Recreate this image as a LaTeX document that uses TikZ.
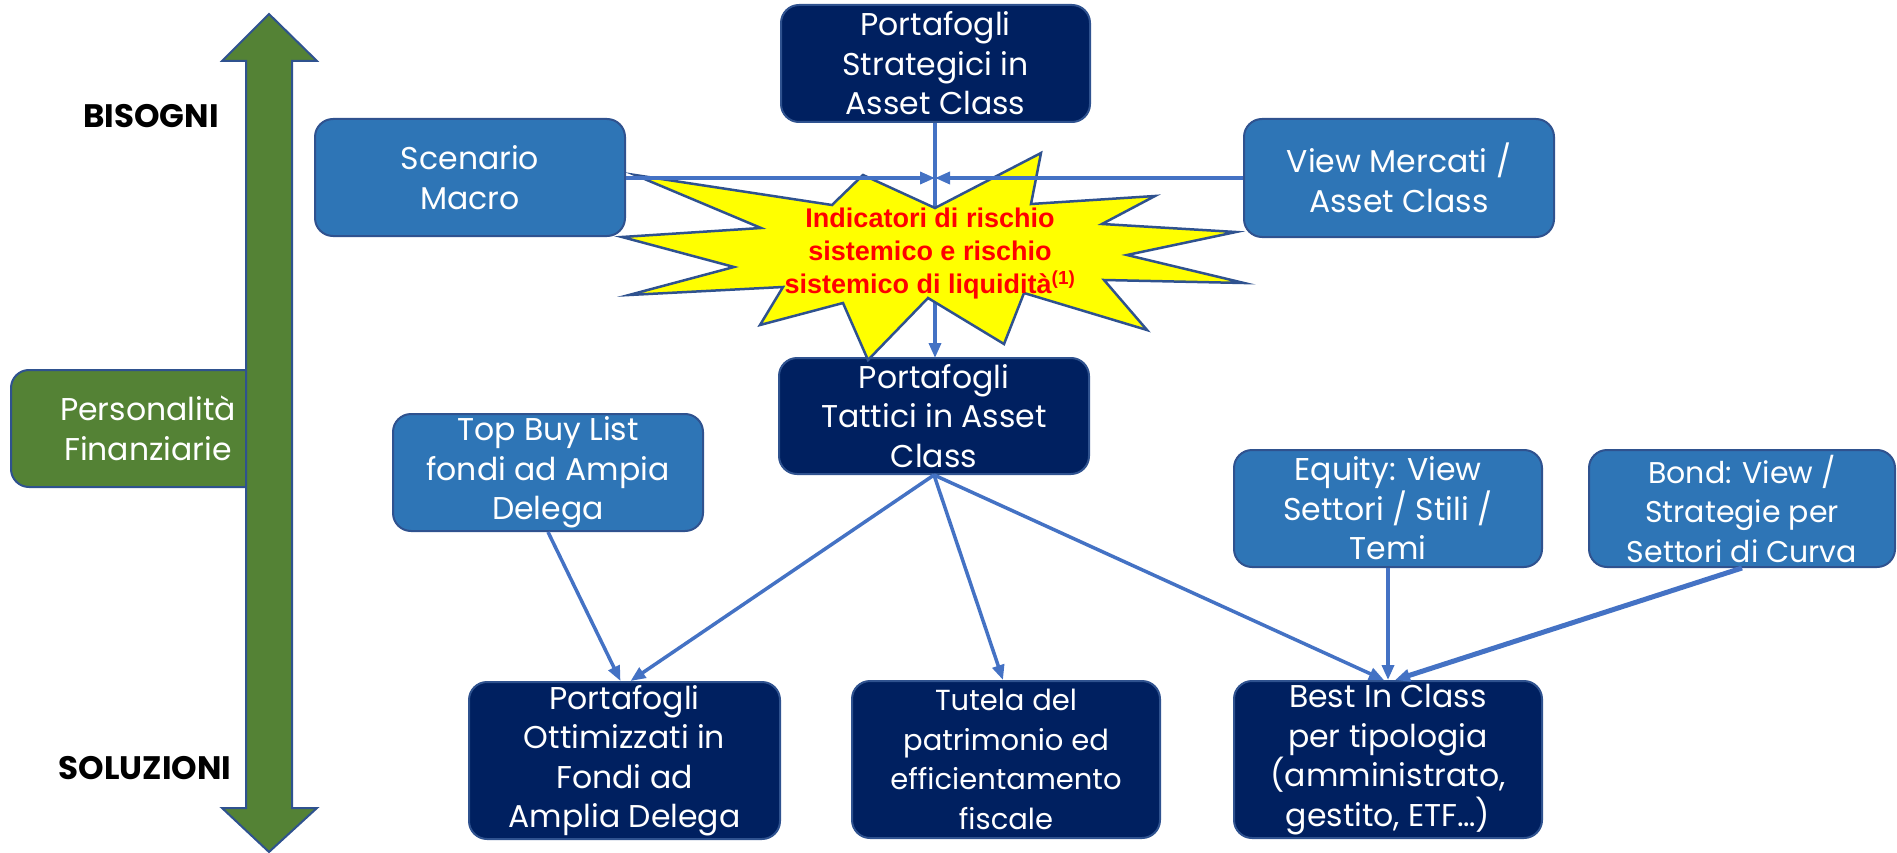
\documentclass[tikz,border=0pt]{standalone}
\usepackage{fontspec}
\setmainfont{Poppins}
\newfontfamily\starfont{Liberation Sans}
\usetikzlibrary{arrows.meta,calc}
\definecolor{navy}{HTML}{002060}
\definecolor{midblue}{HTML}{2E75B6}
\definecolor{grn}{HTML}{548235}
\definecolor{bord}{HTML}{2F528F}
\definecolor{lineblue}{HTML}{4472C4}
\definecolor{staryel}{HTML}{FFFF00}
\newcommand{\boxfont}{\fontsize{31.5}{39.5}\selectfont}
\tikzset{
  basebox/.style={draw=bord, line width=2pt, rounded corners=18pt, text=white,
    align=center, inner sep=0pt, font=\boxfont},
  dk/.style={basebox, fill=navy},
  md/.style={basebox, fill=midblue},
  gb/.style={basebox, fill=grn},
  ln/.style={draw=lineblue, line width=3.5pt, -{Triangle[length=15pt,width=12pt]}},
  side/.style={font=\fontsize{32.5}{36}\selectfont\bfseries, text=black},
}
\begin{document}
\begin{tikzpicture}[x=1pt,y=-1pt]
\useasboundingbox (0,0) rectangle (1897,853);

% green side box (under the arrow)
\node[gb, minimum width=274pt, minimum height=117pt] (pers) at (148,428.5) {Personalità\\Finanziarie};

% green double arrow
\draw[fill=grn, draw=bord, line width=2pt, line join=miter]
  (269,14) -- (317,61) -- (292,61) -- (292,808) -- (317,808) -- (269,852)
  -- (222,808) -- (246,808) -- (246,61) -- (222,61) -- cycle;

\node[side] (bis) at (151,116) {BISOGNI};
\node[side] (sol) at (145,768) {SOLUZIONI};

% boxes
\node[dk, minimum width=309pt, minimum height=117pt] (strat) at (935.5,63.5) {Portafogli\\Strategici in\\Asset Class};
\node[md, minimum width=310pt, minimum height=117pt] (scen) at (470,177.5) {Scenario\\Macro};
\node[md, minimum width=310pt, minimum height=118pt] (view) at (1399,178) {View Mercati /\\Asset Class};
\node[dk, minimum width=310pt, minimum height=116pt] (tatt) at (934,416) {Portafogli\\Tattici in Asset\\Class};
\node[md, minimum width=310pt, minimum height=117pt] (topbuy) at (548,472.5) {Top Buy List\\fondi ad Ampia\\Delega};
\node[md, minimum width=308pt, minimum height=117pt] (equity) at (1388,508.5) {Equity: View\\Settori / Stili /\\Temi};
\node[md, minimum width=306pt, minimum height=117pt, font=\fontsize{30}{39.5}\selectfont] (bond) at (1742,508.5) {Bond: View /\\Strategie per\\Settori di Curva};
\node[dk, minimum width=311pt, minimum height=157pt] (ottim) at (624.5,760.5) {Portafogli\\Ottimizzati in\\Fondi ad\\Amplia Delega};
\node[dk, minimum width=308pt, minimum height=157pt, font=\fontsize{29}{39.5}\selectfont] (tutela) at (1006,759.5) {Tutela del\\patrimonio ed\\efficientamento\\fiscale};
\node[dk, minimum width=308pt, minimum height=157pt] (best) at (1388,759.5) {Best In Class\\per tipologia\\(amministrato,\\gestito, ETF…)};

% vertical connector strategic -> tactical (under the star)
\draw[ln] (strat.south -| 935,0) -- (935,358);

% star
\draw[fill=staryel, draw=bord, line width=2.5pt, line join=miter]
  (635,175) -- (832,205) -- (863,175) -- (935,208) -- (1041,153) -- (1031,204)
  -- (1155,196) -- (1102,224) -- (1236,232) -- (1127,255) -- (1244,283)
  -- (1104,280) -- (1147,330) -- (1024,293) -- (1004,344) -- (928,298)
  -- (868,360) -- (843,303) -- (760,325) -- (783,287) -- (629,295)
  -- (734,267) -- (622,237) -- (761,228) -- cycle;
\node[font=\starfont\bfseries\fontsize{27}{33}\selectfont, text=red, align=center] (startext) at (930,254)
  {Indicatori di rischio\\sistemico e rischio\\sistemico di liquidità\textsuperscript{(1)}};

% horizontal connectors (over the star)
\coordinate (mid) at (935,178);
\draw[ln] (scen.east |- mid) -- (mid);
\draw[ln] (view.west |- mid) -- (mid);

% lower connectors
\draw[ln] (topbuy.south) -- ($(ottim.north)+(-4,0)$);
\draw[ln] (tatt.south) -- ($(ottim.north)+(6,0)$);
\draw[ln] (tatt.south) -- ($(tutela.north)+(-3,0)$);
\draw[ln] (tatt.south) -- ($(best.north)+(-4,0)$);
\draw[ln] (equity.south) -- (best.north);
\draw[ln, line width=5pt] (bond.south) -- ($(best.north)+(7,0)$);
\end{tikzpicture}
\end{document}
